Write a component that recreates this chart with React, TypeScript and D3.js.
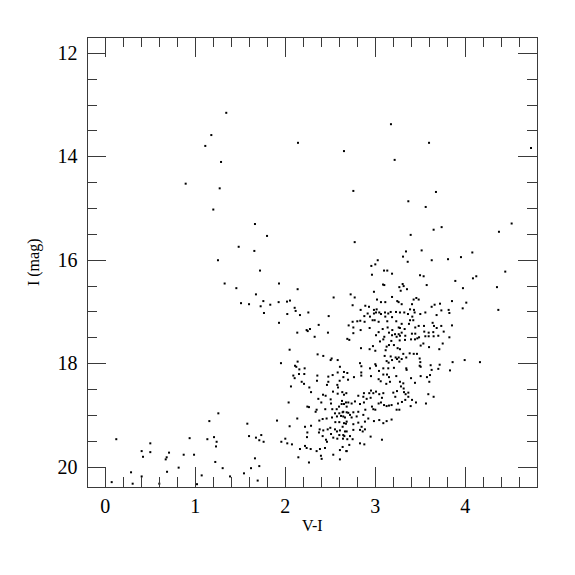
import React from "react";
import * as d3 from "d3";

type Star = [number, number]; // [V-I, I]

const xTicksMajor = [0, 1, 2, 3, 4];
const yTicksMajor = [12, 14, 16, 18, 20];
const xLabel = "V-I";
const yLabel = "I (mag)";

const blueBranch: Star[] = [
  [1.344,13.16],[1.178,13.59],[1.111,13.80],[1.286,14.11],[0.893,14.53],[1.271,14.62],[1.200,15.03],
  [1.663,15.31],[1.797,15.54],[1.482,15.75],[1.656,15.83],[1.252,16.01],[1.719,16.21],[1.326,16.46],
  [1.930,16.46],[1.456,16.55],[1.674,16.67],[1.756,16.80],[1.508,16.84],[1.597,16.86],[1.926,16.82],
  [2.019,16.81],[1.726,16.90],[1.833,16.87],[1.763,17.03],[2.022,17.05],[1.930,17.22],[1.952,18.00],
];

const brightField: Star[] = [
  [2.141,13.74],[2.652,13.90],[3.174,13.38],[3.597,13.74],[3.215,14.07],[4.730,13.84],[2.756,14.67],
  [3.674,14.69],[3.367,14.87],[3.560,14.98],[4.515,15.30],[4.374,15.46],[3.737,15.37],[3.648,15.42],
  [3.393,15.52],[2.771,15.66],[3.341,15.84],[3.515,15.82],[3.308,15.94],[3.360,16.04],[3.627,16.01],
  [3.808,15.99],[3.952,15.95],[4.078,15.86],[3.027,16.01],[3.0,16.09],
];

const redGiants: Star[] = [
  [4.444,16.23],[4.122,16.32],[4.085,16.36],[3.889,16.41],[3.974,16.55],[4.352,16.53],[3.497,16.30],
  [3.537,16.32],[3.304,16.47],[3.315,16.51],[3.571,16.49],[3.352,16.57],[3.282,16.60],[3.852,16.80],
  [4.011,16.83],[3.971,16.94],[4.367,16.97],[3.426,16.77],[3.456,16.74],[3.482,16.77],[3.293,16.86],
  [3.408,16.86],[3.659,16.87],[3.719,16.85],[3.626,16.91],[3.734,16.98],[3.815,16.97],[3.823,17.03],
  [3.386,16.96],[3.43,16.97],[3.274,17.02],[3.322,17.02],[3.437,17.02],[3.5,17.05],[3.556,17.02],
  [3.363,17.05],[3.681,17.07],[3.411,17.10],[3.386,17.17],[3.422,17.17],[3.637,17.22],[3.652,17.28],
  [3.733,17.28],[3.852,17.27],[3.293,17.24],[3.374,17.24],[3.482,17.28],[3.541,17.28],[3.274,17.32],
  [3.326,17.34],[3.444,17.31],[3.682,17.32],[3.760,17.39],[3.544,17.39],[3.593,17.41],[3.644,17.40],
  [3.407,17.43],[3.444,17.43],[3.293,17.41],[3.333,17.47],[3.556,17.48],[3.593,17.48],[3.648,17.48],
  [3.7,17.47],[3.823,17.50],[3.274,17.47],[3.397,17.54],[3.441,17.54],[3.467,17.52],[3.486,17.50],
  [3.33,17.55],[3.534,17.62],[3.504,17.66],[3.749,17.62],[3.597,17.69],[3.711,17.73],[3.274,17.73],
  [3.311,17.82],[3.382,17.81],[3.427,17.82],[3.463,17.82],[3.493,17.91],[3.344,17.89],[3.293,17.92],
  [3.5,17.98],[3.615,18.04],[3.715,18.03],[3.859,17.98],[3.993,17.94],[4.163,17.98],[3.504,18.07],
  [3.7,18.11],[3.344,18.10],
];

const upperBranch: Star[] = [
  [2.956,16.12],[3.097,16.21],[3.133,16.21],[3.186,16.27],[2.963,16.29],[2.137,16.57],[3.086,16.48],
  [3.1,16.49],[2.985,16.62],[3.267,16.53],[2.726,16.67],[2.771,16.73],[2.537,16.73],[3.186,16.72],
  [3.019,16.77],[3.244,16.80],[3.063,16.82],[3.111,16.82],[3.259,16.82],[2.052,16.79],[2.104,16.93],
  [2.115,16.99],[2.163,17.07],[2.256,17.02],[2.482,17.09],[2.748,16.88],[2.889,16.89],[2.93,16.91],
  [2.837,16.97],[2.985,16.97],[3.015,16.96],[2.915,17.04],[2.985,17.04],[3.008,17.02],[3.044,17.02],
  [3.063,17.05],[3.108,17.02],[3.144,17.04],[3.171,17.01],[3.23,17.01],[2.878,17.09],[2.941,17.10],
  [3.111,17.10],[3.186,17.11],[2.833,17.18],[2.8,17.19],[2.748,17.20],[2.881,17.20],[2.970,17.17],
  [2.993,17.17],[3.037,17.20],[3.133,17.19],[3.233,17.19],[2.704,17.27],[2.371,17.26],[2.474,17.41],
  [2.133,17.41],[2.237,17.36],[2.249,17.38],[2.274,17.34],[2.326,17.49],[2.756,17.31],[2.756,17.42],
  [2.837,17.36],[2.937,17.32],[3.037,17.40],[3.082,17.34],[3.137,17.31],[3.189,17.36],[3.26,17.31],
  [3.152,17.41],[3.219,17.44],[3.26,17.44],[3.186,17.46],[3.237,17.49],[3.008,17.46],[3.1,17.49],
  [2.689,17.53],[2.711,17.55],[3.052,17.58],[3.089,17.54],[3.178,17.57],[3.271,17.56],[3.152,17.65],
  [3.207,17.65],[3.126,17.68],[2.974,17.67],[2.937,17.73],[2.841,17.71],[3.115,17.75],[3.0,17.76],
  [2.048,17.74],[3.248,17.71],[3.104,17.86],[3.26,17.89],[3.226,17.89],[3.171,17.87],[2.359,17.83],
  [2.422,17.86],[2.515,17.91],[2.504,17.94],[2.582,17.94],[2.137,17.97],[2.83,18.0],[2.845,18.06],
  [3.126,17.96],[3.148,17.99],[3.186,17.94],[3.241,17.92],[2.108,18.05],[2.122,18.07],[2.215,18.10],
  [2.607,18.07],[2.941,18.10],[3.008,18.05],[3.089,18.10],[3.144,18.10],[3.207,18.09],
];

const lowerLeftClump: Star[] = [
  [2.156,18.12],[2.089,18.24],[2.104,18.29],[2.152,18.21],[2.211,18.21],[2.356,18.24],[2.352,18.34],
  [2.526,18.23],[2.478,18.26],[2.582,18.18],[2.652,18.17],[2.689,18.19],[2.645,18.27],[2.604,18.34],
  [2.697,18.32],[2.182,18.36],[2.208,18.40],[2.267,18.47],[2.063,18.45],[2.286,18.56],[2.478,18.36],
  [2.463,18.42],[2.578,18.42],[2.586,18.47],[2.53,18.55],[2.582,18.59],[2.633,18.56],[2.652,18.61],
  [2.678,18.58],[2.419,18.61],[2.448,18.63],[2.037,18.76],[2.245,18.84],[2.263,18.85],[2.367,18.69],
  [2.4,18.76],[2.504,18.70],[2.508,18.78],[2.348,18.90],[2.337,18.94],[2.444,18.89],[2.522,18.89],
  [2.571,18.89],[2.597,18.84],[2.652,18.79],[2.7,18.76],[2.63,18.73],[2.552,18.97],[2.6,18.97],
  [2.637,18.95],[2.682,18.95],[2.415,19.08],[2.459,19.07],[2.519,19.05],[2.574,19.03],[2.619,19.02],
  [2.663,19.05],[2.378,19.11],[2.556,19.14],[2.6,19.14],[2.652,19.16],[2.682,19.13],[1.908,19.11],
  [1.578,19.17],[2.133,19.07],[2.219,19.23],[2.286,19.21],[2.048,19.22],[2.245,19.34],[2.241,19.43],
  [2.382,19.28],[2.422,19.30],[2.471,19.28],[2.5,19.25],[2.552,19.28],[2.574,19.32],[2.607,19.30],
  [2.663,19.32],[2.415,19.41],[2.452,19.48],[2.533,19.44],[2.578,19.46],[2.6,19.39],[2.641,19.46],
  [2.656,19.41],[2.689,19.47],[2.508,19.37],[2.374,19.34],[2.463,19.52],[2.0,19.46],[1.956,19.52],
  [2.074,19.57],[2.022,19.55],[1.674,19.44],[1.597,19.41],[1.711,19.49],[1.733,19.39],[1.759,19.52],
  [2.163,19.66],[2.219,19.60],[2.237,19.64],[2.282,19.66],[2.348,19.70],[2.385,19.66],[2.441,19.64],
  [2.396,19.79],[2.404,19.85],[2.533,19.77],[2.607,19.68],[2.678,19.70],[2.145,19.82],[2.263,19.92],
  [1.663,19.84],[1.711,19.99],[1.619,20.03],[1.541,20.13],[1.304,20.03],[1.386,20.19],[1.693,20.27],
];

const lowerRightClump: Star[] = [
  [3.0,18.02],[3.267,17.97],[3.493,18.05],[3.83,18.14],[3.626,18.13],[3.348,18.13],[2.844,18.18],
  [2.844,18.24],[2.763,18.27],[2.952,18.25],[3.041,18.15],[3.089,18.22],[3.13,18.22],[3.152,18.27],
  [3.233,18.25],[3.037,18.31],[3.06,18.35],[3.122,18.40],[3.163,18.36],[3.274,18.36],[3.311,18.39],
  [3.397,18.29],[3.441,18.38],[3.504,18.25],[3.574,18.27],[3.6,18.36],[3.608,18.23],[3.589,18.60],
  [3.648,18.65],[3.563,18.78],[3.452,18.76],[3.393,18.83],[3.408,18.71],[3.367,18.65],[3.337,18.60],
  [3.367,18.57],[3.319,18.56],[3.285,18.45],[3.315,18.49],[3.241,18.54],[3.222,18.65],[3.2,18.57],
  [3.333,18.71],[3.296,18.75],[3.252,18.78],[3.267,18.90],[3.237,18.90],[3.181,18.81],[3.152,18.82],
  [3.126,18.83],[3.097,18.81],[3.063,18.76],[3.037,18.78],[3.074,18.67],[3.044,18.60],[3.089,18.58],
  [3.008,18.55],[2.952,18.53],[2.933,18.58],[2.978,18.58],[2.874,18.58],[2.867,18.65],[2.811,18.63],
  [2.904,18.69],[2.948,18.67],[2.774,18.74],[2.737,18.78],[2.674,18.76],[2.626,18.79],[2.682,18.84],
  [2.83,18.79],[2.874,18.76],[2.963,18.84],[2.978,18.89],[3.0,18.90],[2.889,18.90],[2.811,18.94],
  [2.756,18.95],[2.7,18.96],[2.644,18.94],[2.867,19.0],[2.793,19.03],[2.737,19.05],[2.719,19.0],
  [2.644,19.03],[2.922,19.07],[2.985,19.12],[3.089,19.16],[3.044,19.10],[3.126,19.12],[3.181,19.09],
  [2.885,19.13],[2.811,19.15],[2.756,19.18],[2.674,19.17],[2.637,19.23],[2.848,19.23],[2.83,19.29],
  [2.86,19.32],[2.885,19.28],[2.756,19.29],[2.682,19.32],[2.644,19.39],[2.719,19.41],[2.748,19.47],
  [2.948,19.42],[2.83,19.55],[2.878,19.57],[2.711,19.58],[2.637,19.62],[2.682,19.70],[2.607,19.86],
  [3.074,19.48],
];

const faintBlue: Star[] = [
  [0.122,19.47],[0.071,20.30],[0.286,20.11],[0.304,20.33],[0.404,20.19],[0.404,19.70],[0.419,19.81],
  [0.5,19.55],[0.5,19.72],[0.6,20.33],[0.671,19.86],[0.682,19.82],[0.708,19.73],[0.686,20.10],
  [0.815,20.02],[0.871,19.77],[0.937,19.45],[0.986,19.77],[1.019,20.34],[1.071,20.17],[1.134,19.47],
  [1.156,19.12],[1.208,19.43],[1.237,19.52],[1.23,19.61],[1.256,18.97],[1.222,19.91],
];

const allStars: Star[] = [
  ...blueBranch, ...brightField, ...redGiants, ...upperBranch,
  ...lowerLeftClump, ...lowerRightClump, ...faintBlue,
];

const W = 575, H = 575;
const L = 87.3, R = 537.3, T = 37.3, B = 487.3;
const FONT = "'Liberation Serif', 'Times New Roman', serif";
const AX = "#3a3a3a";

export default function App() {
  const x = d3.scaleLinear().domain([-0.2, 4.8]).range([L, R]);
  const y = d3.scaleLinear().domain([11.7, 20.4]).range([T, B]);

  const xMinor = d3.range(-0.2, 4.81, 0.2).map((v) => +v.toFixed(2));
  const yMinor = d3.range(12, 20.41, 0.5);
  const isMajX = (v: number) => Math.abs(v - Math.round(v)) < 1e-6;
  const isMajY = (v: number) => Math.abs(v / 2 - Math.round(v / 2)) < 1e-6;

  return (
    <svg width={W} height={H} style={{ position: "absolute", left: 0, top: 0, background: "#fff" }}>
      <rect x={0} y={0} width={W} height={H} fill="#fff" />
      {allStars.map(([vi, im], i) => (
        <rect key={i} x={x(vi) - 1} y={y(im) - 1} width={2} height={2} fill="#000" />
      ))}
      <g stroke={AX} strokeWidth={1} fill="none" shapeRendering="crispEdges">
        <rect x={L} y={T} width={R - L} height={B - T} />
        {xMinor.map((v, i) => {
          const len = isMajX(v) ? 20 : 10;
          const px = Math.round(x(v)) + 0.5;
          return (
            <g key={"xt" + i}>
              <line x1={px} x2={px} y1={B} y2={B - len} />
              <line x1={px} x2={px} y1={T} y2={T + len} />
            </g>
          );
        })}
        {yMinor.map((v, i) => {
          const len = isMajY(v) ? 19 : 10;
          const py = Math.round(y(v)) + 0.5;
          return (
            <g key={"yt" + i}>
              <line x1={L} x2={L + len} y1={py} y2={py} />
              <line x1={R} x2={R - len} y1={py} y2={py} />
            </g>
          );
        })}
      </g>
      <g fontFamily={FONT} fontSize={20} fill="#000">
        {xTicksMajor.map((v) => (
          <text key={"xl" + v} x={x(v)} y={512.5} textAnchor="middle">{v}</text>
        ))}
        {yTicksMajor.map((v) => (
          <text key={"yl" + v} x={77.5} y={y(v) + 7} textAnchor="end">{v}</text>
        ))}
      </g>
      <text x={(L + R) / 2} y={530.5} textAnchor="middle" fontFamily={FONT} fontSize={16}>{xLabel}</text>
      <text
        transform={`translate(39,${(T + B) / 2}) rotate(-90)`}
        textAnchor="middle"
        fontFamily={FONT}
        fontSize={16}
      >{yLabel}</text>
    </svg>
  );
}
